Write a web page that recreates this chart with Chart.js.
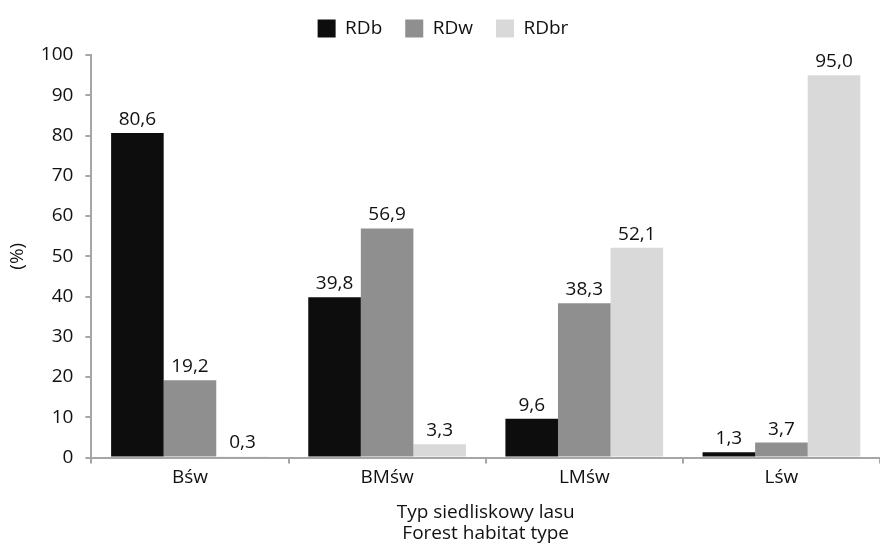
<!DOCTYPE html>
<html>
<head>
<meta charset="utf-8">
<script src="https://cdn.jsdelivr.net/npm/chart.js@4/dist/chart.umd.min.js"></script>
<style>
  html, body { margin: 0; padding: 0; background: #fff; }
  #wrap { width: 880px; height: 545px; }
</style>
</head>
<body>
<div id="wrap"><canvas id="c" width="880" height="545"></canvas></div>
<script>
// Habitat types and shares (%) of each stand category
const categories = ['Bśw', 'BMśw', 'LMśw', 'Lśw'];
const rdb  = [80.6, 39.8, 9.6, 1.3];
const rdw  = [19.2, 56.9, 38.3, 3.7];
const rdbr = [0.3, 3.3, 52.1, 95.0];
const yTicks = [0, 10, 20, 30, 40, 50, 60, 70, 80, 90, 100];

const FONT = '"Open Sans", Lato, sans-serif';
const FS = 19;
const AXIS_GREY = '#a6a6a6';

// Writes each bar's value (decimal comma) just above the bar
const valueLabels = {
  id: 'valueLabels',
  afterDatasetsDraw(chart) {
    const ctx = chart.ctx;
    ctx.save();
    ctx.font = FS + 'px ' + FONT;
    ctx.fillStyle = '#111';
    ctx.textAlign = 'center';
    ctx.textBaseline = 'bottom';
    chart.data.datasets.forEach((ds, i) => {
      chart.getDatasetMeta(i).data.forEach((bar, j) => {
        const txt = ds.data[j].toFixed(1).replace('.', ',');
        ctx.fillText(txt, bar.x, bar.y - 4);
      });
    });
    ctx.restore();
  }
};

// Extra space between the legend row and the plot
const legendGap = {
  id: 'legendGap',
  beforeInit(chart) {
    const lg = chart.legend;
    const fit = lg.fit;
    lg.fit = function () {
      fit.call(this);
      this.height += 7;
    };
  }
};

new Chart(document.getElementById('c'), {
  type: 'bar',
  data: {
    labels: categories,
    datasets: [
      { label: 'RDb',  data: rdb,  backgroundColor: '#0d0d0d' },
      { label: 'RDw',  data: rdw,  backgroundColor: '#8f8f8f' },
      { label: 'RDbr', data: rdbr, backgroundColor: '#d9d9d9' }
    ]
  },
  options: {
    responsive: false,
    animation: false,
    devicePixelRatio: 1,
    layout: { padding: { top: -4, right: 0, left: 6, bottom: 0 } },
    datasets: { bar: { categoryPercentage: 0.8, barPercentage: 1.0 } },
    plugins: {
      tooltip: { enabled: false },
      legend: {
        position: 'top',
        labels: {
          font: { family: FONT, size: FS },
          color: '#111',
          boxWidth: 18,
          boxHeight: 18,
          padding: 23
        }
      }
    },
    scales: {
      x: {
        grid: {
          display: true,
          drawOnChartArea: false,
          color: AXIS_GREY,
          lineWidth: 2,
          tickLength: 6
        },
        border: { display: true, color: AXIS_GREY, width: 2 },
        ticks: { font: { family: FONT, size: FS }, color: '#111', padding: 3 },
        title: {
          display: true,
          text: ['Typ siedliskowy lasu', 'Forest habitat type'],
          font: { family: FONT, size: FS, lineHeight: 1.15 },
          color: '#111',
          padding: { top: 9, bottom: 0 }
        }
      },
      y: {
        min: 0,
        max: 100,
        afterBuildTicks(axis) { axis.ticks = yTicks.map(v => ({ value: v })); },
        grid: {
          display: true,
          drawOnChartArea: false,
          color: AXIS_GREY,
          lineWidth: 2,
          tickLength: 6
        },
        border: { display: true, color: AXIS_GREY, width: 2 },
        ticks: { font: { family: FONT, size: FS }, color: '#111', padding: 12 },
        title: {
          display: true,
          text: '(%)',
          font: { family: FONT, size: FS },
          color: '#111',
          padding: { top: 0, bottom: 0 }
        }
      }
    }
  },
  plugins: [valueLabels, legendGap]
});
</script>
</body>
</html>
